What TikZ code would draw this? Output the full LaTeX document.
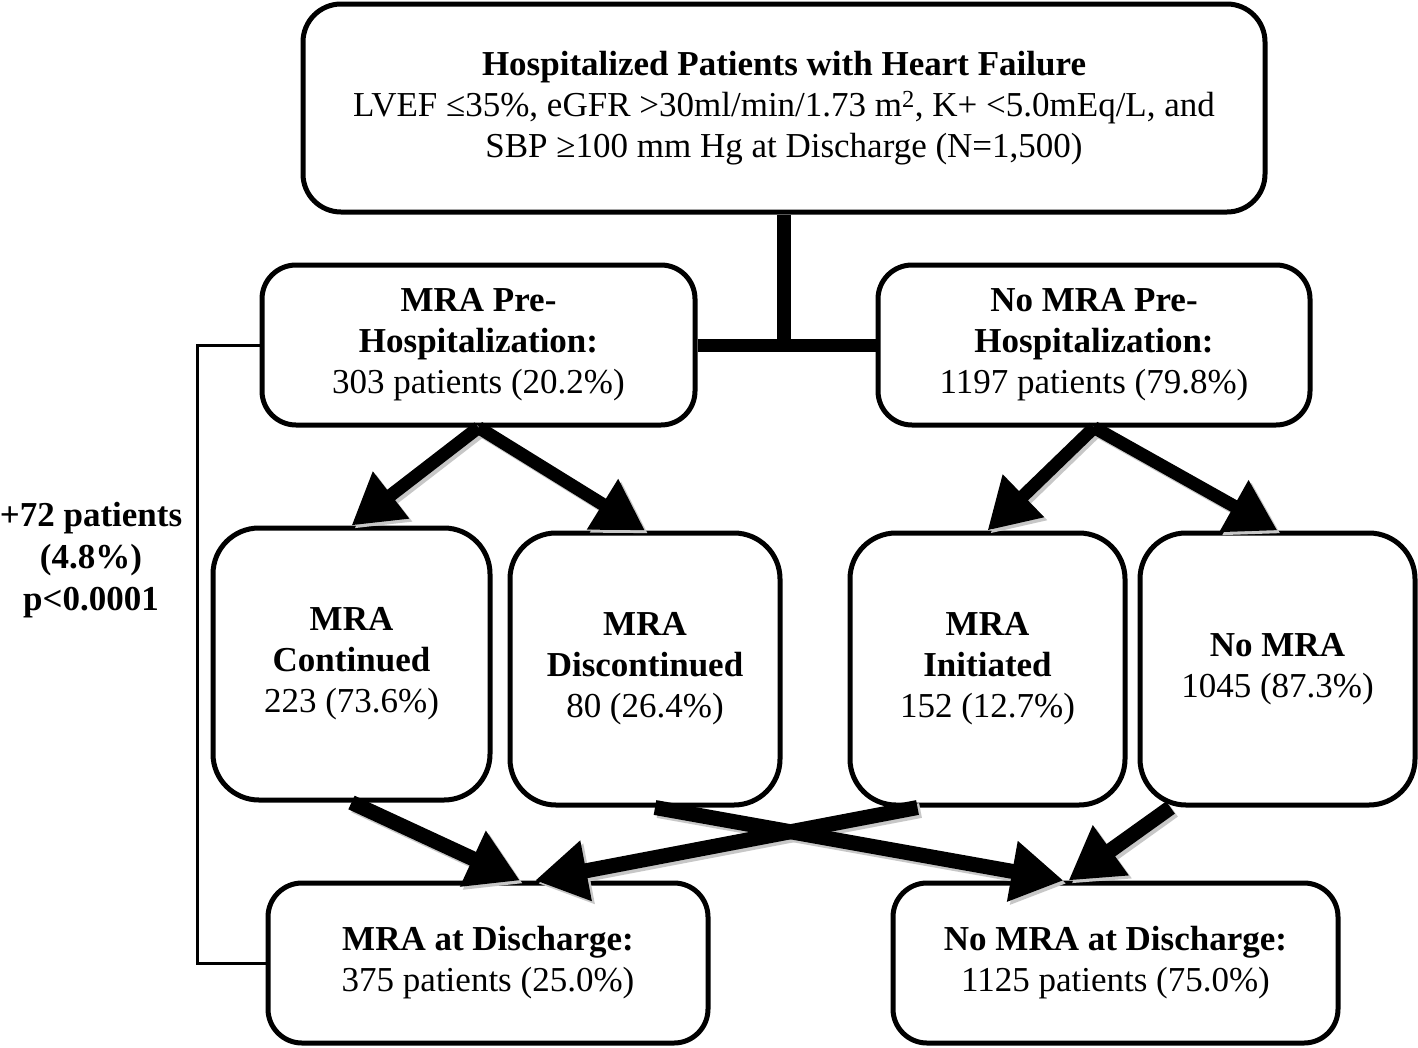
\documentclass[tikz,border=0pt]{standalone}
\usepackage{fontspec}
\setmainfont{Liberation Serif}
\usetikzlibrary{arrows.meta}
\tikzset{
  box/.style={draw=black, line width=5pt, rounded corners=38pt, align=center,
    inner sep=0pt, font=\fontsize{35}{41}\selectfont},
  bigarrow/.style={line width=13pt, -{Triangle[length=50pt,width=56pt]}},
  fatarrow/.style={line width=15pt, -{Triangle[length=52pt,width=58pt]}},
  shadowarrow/.style={black!22, transform canvas={shift={(3pt,-3pt)}}},
  bar/.style={line width=14pt},
  thin/.style={line width=3pt}
}
\begin{document}
\begin{tikzpicture}[x=1pt,y=-1pt]
\useasboundingbox[fill=white] (0,0) rectangle (1418,1047);

\node[box, minimum width=962pt, minimum height=208pt] (top) at (784,108)
  {\textbf{Hospitalized Patients with Heart Failure}\\
   LVEF ≤35\%, eGFR >30ml/min/1.73 m\textsuperscript{2}, K+ <5.0mEq/L, and\\
   SBP ≥100 mm Hg at Discharge (N=1,500)};

\node[box, rounded corners=34pt, minimum width=433pt, minimum height=160pt] (mpre) at (478.5,345)
  {\textbf{MRA Pre-}\\\textbf{Hospitalization:}\\303 patients (20.2\%)};
\node[box, rounded corners=34pt, minimum width=432pt, minimum height=160pt] (nmpre) at (1094,345)
  {\textbf{No MRA Pre-}\\\textbf{Hospitalization:}\\1197 patients (79.8\%)};

\node[box, rounded corners=46pt, minimum width=277pt, minimum height=272pt] (cont) at (351.5,664)
  {\textbf{MRA}\\\textbf{Continued}\\223 (73.6\%)};
\node[box, rounded corners=46pt, minimum width=270pt, minimum height=272pt] (disc) at (645,669)
  {\textbf{MRA}\\\textbf{Discontinued}\\80 (26.4\%)};
\node[box, rounded corners=46pt, minimum width=275pt, minimum height=272pt] (init) at (987.5,669)
  {\textbf{MRA}\\\textbf{Initiated}\\152 (12.7\%)};
\node[box, rounded corners=46pt, minimum width=275pt, minimum height=272pt] (nomra) at (1277.5,669)
  {\textbf{No MRA}\\1045 (87.3\%)};

\node[box, rounded corners=34pt, minimum width=440pt, minimum height=160pt] (mad) at (488,963)
  {\textbf{MRA at Discharge:}\\375 patients (25.0\%)};
\node[box, rounded corners=34pt, minimum width=445pt, minimum height=160pt] (nmad) at (1115.5,963)
  {\textbf{No MRA at Discharge:}\\1125 patients (75.0\%)};

\node[align=center, font=\fontsize{35}{42}\selectfont\bfseries] (gain) at (91,560)
  {+72 patients\\(4.8\%)\\p<0.0001};

% T-connector
\draw[bar] (top.south) -- (top.south |- mpre.east);
\draw[line width=13pt] (mpre.east) -- (nmpre.west);

% bracket
\draw[thin] (mpre.west) -- ++(-62pt,0pt) |- (mad.west);

% arrows: shadows
\begin{scope}[shadowarrow]
\draw[bigarrow] (mpre.south) -- (cont.north);
\draw[bigarrow] (mpre.south) -- (disc.north);
\draw[bigarrow] (nmpre.south) -- (init.north);
\draw[bigarrow] (nmpre.south) -- (nomra.north);
\draw[fatarrow] (cont.south) -- ([xshift=32pt]mad.north);
\draw[fatarrow] ([xshift=10pt]disc.south) -- ([xshift=-52pt]nmad.north);
\draw[fatarrow] ([xshift=-70pt]init.south) -- ([xshift=47pt]mad.north);
\draw[fatarrow] ([xshift=-107pt]nomra.south) -- ([xshift=-47pt]nmad.north);
\end{scope}

% arrows
\draw[bigarrow] (mpre.south) -- (cont.north);
\draw[bigarrow] (mpre.south) -- (disc.north);
\draw[bigarrow] (nmpre.south) -- (init.north);
\draw[bigarrow] (nmpre.south) -- (nomra.north);
\draw[fatarrow] (cont.south) -- ([xshift=32pt]mad.north);
\draw[fatarrow] ([xshift=10pt]disc.south) -- ([xshift=-52pt]nmad.north);
\draw[fatarrow] ([xshift=-70pt]init.south) -- ([xshift=47pt]mad.north);
\draw[fatarrow] ([xshift=-107pt]nomra.south) -- ([xshift=-47pt]nmad.north);
\end{tikzpicture}
\end{document}
